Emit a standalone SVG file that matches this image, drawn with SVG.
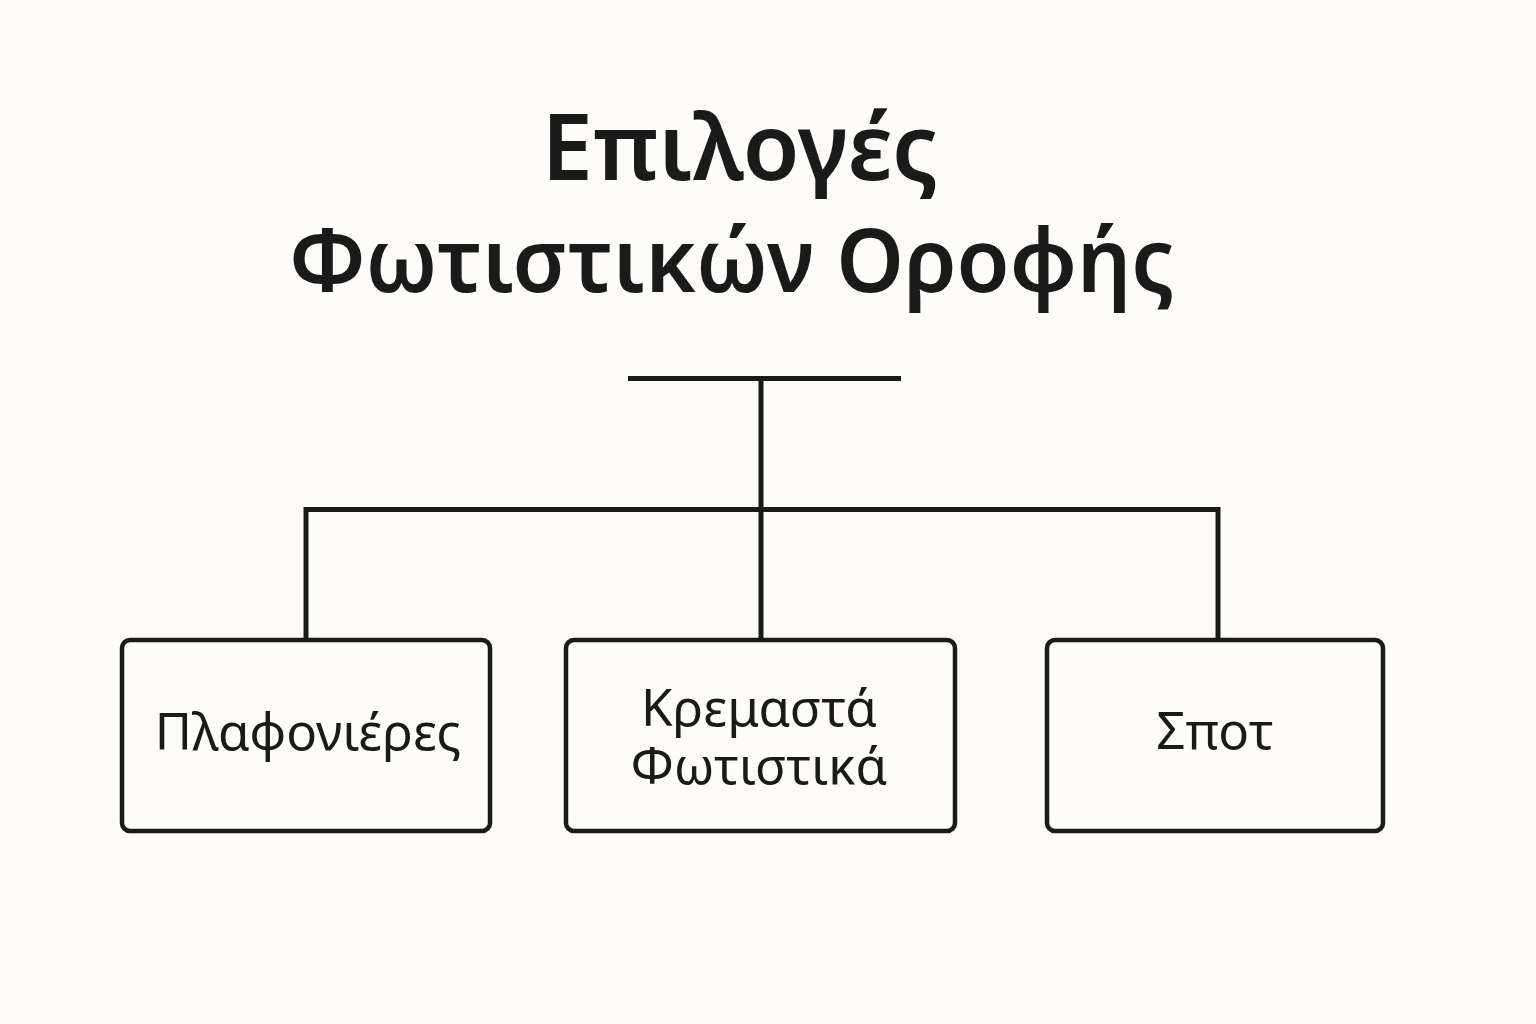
<svg xmlns="http://www.w3.org/2000/svg" width="1536" height="1024" viewBox="0 0 1536 1024">
<style>
.title{font-family:"Noto Sans","DejaVu Sans",sans-serif;font-weight:600;fill:#1a1a1a;text-anchor:middle}
.lbl{font-family:"Noto Sans","DejaVu Sans",sans-serif;font-size:51px;fill:#1a1a1a;text-anchor:middle}
.box{fill:#fdfcf9;stroke:#1a1a1a;stroke-width:4.5}
.conn{fill:none;stroke:#1a1a1a;stroke-width:5}
</style>
<rect width="1536" height="1024" fill="#fdfcf9"/>
<g id="title">
<text class="title" x="740" y="180" font-size="92">Επιλογές</text>
<text class="title" x="732" y="292" font-size="88" textLength="885" lengthAdjust="spacingAndGlyphs">Φωτιστικών Οροφής</text>
</g>
<g id="connectors">
<line class="conn" x1="628" y1="378.5" x2="901" y2="378.5"/>
<line class="conn" x1="761" y1="378" x2="761" y2="640"/>
<polyline class="conn" points="306,640 306,509.5 1218,509.5 1218,640"/>
</g>
<g id="node-plafonieres">
<rect class="box" x="122" y="640" width="368" height="191" rx="8"/>
<text class="lbl" x="308" y="750">Πλαφονιέρες</text>
</g>
<g id="node-kremasta">
<rect class="box" x="566" y="640" width="389" height="191" rx="8"/>
<text class="lbl"><tspan x="759" y="726">Κρεμαστά</tspan><tspan x="759" y="784">Φωτιστικά</tspan></text>
</g>
<g id="node-spot">
<rect class="box" x="1047" y="640" width="336" height="191" rx="8"/>
<text class="lbl" x="1215" y="749">Σποτ</text>
</g>
</svg>
